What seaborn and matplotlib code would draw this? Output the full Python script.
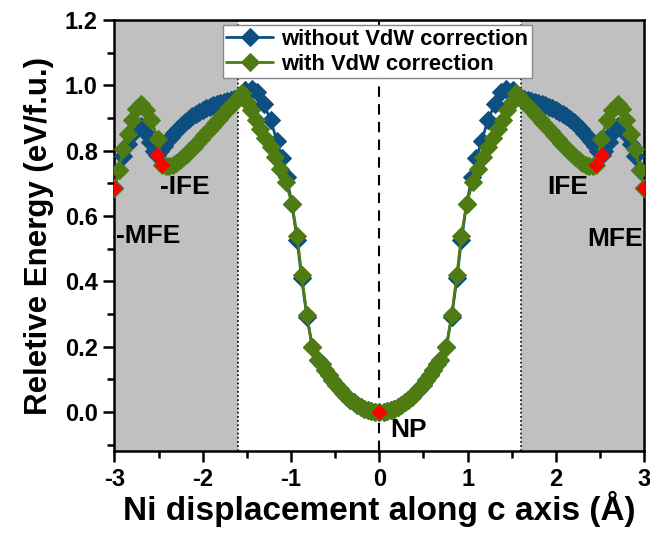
import matplotlib
matplotlib.use("Agg")
import matplotlib.pyplot as plt
import seaborn as sns
import pandas as pd
from matplotlib.ticker import MultipleLocator

# ---- data ----
blue_x = [-3.00, -2.95, -2.90, -2.85, -2.80, -2.75, -2.70, -2.65, -2.60, -2.55, -2.52,
          -2.48, -2.44, -2.40, -2.36, -2.32, -2.28, -2.24, -2.20, -2.16, -2.12, -2.08,
          -2.04, -2.00, -1.96, -1.92, -1.88, -1.84, -1.80, -1.76, -1.72, -1.68, -1.64,
          -1.60, -1.52, -1.44, -1.38, -1.31, -1.23, -1.16, -1.10, -1.05, -0.99, -0.93,
          -0.88, -0.82, -0.76, -0.69, -0.65, -0.61, -0.57, -0.53, -0.49, -0.45, -0.41,
          -0.37, -0.33, -0.29, -0.25, -0.21, -0.17, -0.13, -0.09, -0.05, 0.00,
          0.05, 0.09, 0.13, 0.17, 0.21, 0.25, 0.29, 0.33, 0.37, 0.41, 0.45, 0.49,
          0.53, 0.57, 0.61, 0.65, 0.69, 0.76, 0.82, 0.88, 0.93, 0.99, 1.05, 1.10,
          1.16, 1.23, 1.31, 1.38, 1.44, 1.52, 1.60, 1.64, 1.68, 1.72, 1.76, 1.80,
          1.84, 1.88, 1.92, 1.96, 2.00, 2.04, 2.08, 2.12, 2.16, 2.20, 2.24, 2.28,
          2.32, 2.36, 2.40, 2.44, 2.48, 2.52, 2.55, 2.60, 2.65, 2.70, 2.75, 2.80,
          2.85, 2.90, 2.95, 3.00]
blue_y = [0.685, 0.740, 0.785, 0.820, 0.850, 0.870, 0.876, 0.857, 0.825, 0.800, 0.786,
          0.800, 0.815, 0.829, 0.842, 0.855, 0.866, 0.877, 0.887, 0.896, 0.905, 0.912,
          0.919, 0.925, 0.930, 0.935, 0.939, 0.943, 0.947, 0.950, 0.953, 0.955, 0.957,
          0.960, 0.985, 0.990, 0.978, 0.944, 0.893, 0.830, 0.777, 0.720, 0.638, 0.525,
          0.410, 0.292, 0.200, 0.160, 0.146, 0.129, 0.112, 0.097, 0.083, 0.070, 0.058,
          0.047, 0.038, 0.029, 0.022, 0.015, 0.010, 0.006, 0.003, 0.001, 0.000,
          0.001, 0.003, 0.006, 0.010, 0.015, 0.022, 0.029, 0.038, 0.047, 0.058, 0.070, 0.083,
          0.097, 0.112, 0.129, 0.146, 0.160, 0.200, 0.292, 0.410, 0.525, 0.638, 0.720, 0.777,
          0.830, 0.893, 0.944, 0.978, 0.990, 0.985, 0.960, 0.957, 0.955, 0.953, 0.950, 0.947,
          0.943, 0.939, 0.935, 0.930, 0.925, 0.919, 0.912, 0.905, 0.896, 0.887, 0.877, 0.866,
          0.855, 0.842, 0.829, 0.815, 0.800, 0.786, 0.800, 0.825, 0.857, 0.876, 0.870, 0.850,
          0.820, 0.785, 0.740, 0.685]

green_x = [-3.00, -2.95, -2.90, -2.85, -2.80, -2.75, -2.70, -2.64, -2.58, -2.51, -2.46,
           -2.42, -2.38, -2.34, -2.30, -2.26, -2.22, -2.18, -2.14, -2.10, -2.06, -2.02,
           -1.98, -1.94, -1.90, -1.86, -1.82, -1.78, -1.74, -1.70, -1.66, -1.62, -1.58,
           -1.55, -1.50, -1.45, -1.40, -1.35, -1.29, -1.23, -1.18, -1.12, -1.06, -0.99,
           -0.93, -0.88, -0.82, -0.76, -0.69, -0.65, -0.61, -0.57, -0.53, -0.49, -0.45,
           -0.41, -0.37, -0.33, -0.29, -0.25, -0.21, -0.17, -0.13, -0.09, -0.05, 0.00,
           0.05, 0.09, 0.13, 0.17, 0.21, 0.25, 0.29, 0.33, 0.37, 0.41, 0.45,
           0.49, 0.53, 0.57, 0.61, 0.65, 0.69, 0.76, 0.82, 0.88, 0.93, 0.99,
           1.06, 1.12, 1.18, 1.23, 1.29, 1.35, 1.40, 1.45, 1.50, 1.55, 1.58,
           1.62, 1.66, 1.70, 1.74, 1.78, 1.82, 1.86, 1.90, 1.94, 1.98, 2.02,
           2.06, 2.10, 2.14, 2.18, 2.22, 2.26, 2.30, 2.34, 2.38, 2.42, 2.46,
           2.51, 2.58, 2.64, 2.70, 2.75, 2.80, 2.85, 2.90, 2.95, 3.00]
green_y = [0.685, 0.740, 0.805, 0.850, 0.893, 0.928, 0.944, 0.924, 0.893, 0.835, 0.755,
           0.752, 0.753, 0.757, 0.763, 0.771, 0.780, 0.790, 0.801, 0.812, 0.824, 0.836,
           0.848, 0.860, 0.872, 0.884, 0.896, 0.908, 0.920, 0.932, 0.944, 0.956, 0.968,
           0.975, 0.950, 0.925, 0.895, 0.865, 0.838, 0.810, 0.780, 0.745, 0.704, 0.638,
           0.540, 0.419, 0.297, 0.200, 0.160, 0.146, 0.129, 0.112, 0.097, 0.083, 0.070,
           0.058, 0.047, 0.038, 0.029, 0.022, 0.015, 0.010, 0.006, 0.003, 0.001, 0.000,
           0.001, 0.003, 0.006, 0.010, 0.015, 0.022, 0.029, 0.038, 0.047, 0.058, 0.070,
           0.083, 0.097, 0.112, 0.129, 0.146, 0.160, 0.200, 0.297, 0.419, 0.540, 0.638,
           0.704, 0.745, 0.780, 0.810, 0.838, 0.865, 0.895, 0.925, 0.950, 0.975, 0.968,
           0.956, 0.944, 0.932, 0.920, 0.908, 0.896, 0.884, 0.872, 0.860, 0.848, 0.836,
           0.824, 0.812, 0.801, 0.790, 0.780, 0.771, 0.763, 0.757, 0.753, 0.752, 0.755,
           0.835, 0.893, 0.924, 0.944, 0.928, 0.893, 0.850, 0.805, 0.740, 0.685]

red_x = [-3.00, -2.52, -2.46, 0.00, 2.46, 2.52, 3.00]
red_y = [0.685, 0.786, 0.755, 0.000, 0.755, 0.786, 0.685]

series_names = ["without VdW correction", "with VdW correction"]
state_labels = ["-MFE", "-IFE", "NP", "IFE", "MFE"]
state_x = [-2.98, -2.48, 0.12, 1.90, 2.36]
state_y = [0.54, 0.69, -0.055, 0.69, 0.53]

BLUE = "#0d4f80"
GREEN = "#4e7b12"

sns.set_style("ticks")
plt.rcParams["font.family"] = ["Liberation Sans", "DejaVu Sans"]
plt.rcParams["font.weight"] = "bold"
for k in ["text.color", "axes.labelcolor", "xtick.color", "ytick.color", "axes.edgecolor"]:
    plt.rcParams[k] = "black"

fig = plt.figure(figsize=(6.5, 5.39), dpi=100)
ax = fig.add_axes([0.176, 0.163, 0.815, 0.8])

# shaded regions and guide lines
ax.axvspan(-3.0, -1.6, color="#c0c0c0", zorder=0, lw=0)
ax.axvspan(1.6, 3.0, color="#c0c0c0", zorder=0, lw=0)
ax.axvline(-1.6, color="black", ls=(0, (1, 1.5)), lw=1.2, zorder=1)
ax.axvline(1.6, color="black", ls=(0, (1, 1.5)), lw=1.2, zorder=1)
ax.axvline(0.0, color="black", ls=(0, (5, 3.5)), lw=1.5, zorder=1)

dfb = pd.DataFrame({"x": blue_x, "y": blue_y})
dfg = pd.DataFrame({"x": green_x, "y": green_y})
sns.lineplot(data=dfb, x="x", y="y", sort=False, ax=ax, color=BLUE, lw=2,
             marker="D", markersize=9, markeredgecolor=BLUE, label=series_names[0], zorder=3)
sns.lineplot(data=dfg, x="x", y="y", sort=False, ax=ax, color=GREEN, lw=2,
             marker="D", markersize=9, markeredgecolor=GREEN, label=series_names[1], zorder=4)
sns.scatterplot(x=red_x, y=red_y, ax=ax, color="#ff0000", marker="D", s=65,
                edgecolor="#ff0000", linewidth=0, zorder=5, legend=False)

for t, tx, ty in zip(state_labels, state_x, state_y):
    ax.text(tx, ty, t, fontsize=19, fontweight="bold", ha="left", va="center", zorder=6)

ax.set_xlim(-3, 3)
ax.set_ylim(-0.12, 1.2)
ax.xaxis.set_minor_locator(MultipleLocator(0.5))
ax.yaxis.set_major_locator(MultipleLocator(0.2))
ax.yaxis.set_minor_locator(MultipleLocator(0.1))
ax.set_xticks([-3, -2, -1, 0, 1, 2, 3])
ax.set_xticklabels(["-3", "-2", "-1", "0", "1", "2", "3"])
ax.tick_params(axis="both", which="major", direction="out", length=8, width=1.8,
               labelsize=17, top=False, right=False, pad=4)
ax.tick_params(axis="both", which="minor", direction="out", length=5, width=1.8,
               top=False, right=False)
for lab in ax.get_xticklabels() + ax.get_yticklabels():
    lab.set_fontweight("bold")
for sp in ax.spines.values():
    sp.set_visible(True)
    sp.set_linewidth(1.8)
    sp.set_color("black")

ax.set_xlabel("Ni displacement along c axis (Å)", fontsize=24, fontweight="bold")
ax.xaxis.set_label_coords(0.5, -0.093)
ax.set_ylabel("Reletive Energy (eV/f.u.)", fontsize=22.5, fontweight="bold", labelpad=8)

leg = ax.legend(loc="upper left", bbox_to_anchor=(0.195, 1.0), fontsize=15.8,
                frameon=True, fancybox=False, edgecolor="#888888", framealpha=1,
                borderpad=0.15, handlelength=2.1, handletextpad=0.4,
                labelspacing=0.2, borderaxespad=0.25)
for txt in leg.get_texts():
    txt.set_fontweight("bold")
leg.get_frame().set_linewidth(1.0)

fig.savefig("out.png", dpi=100)
